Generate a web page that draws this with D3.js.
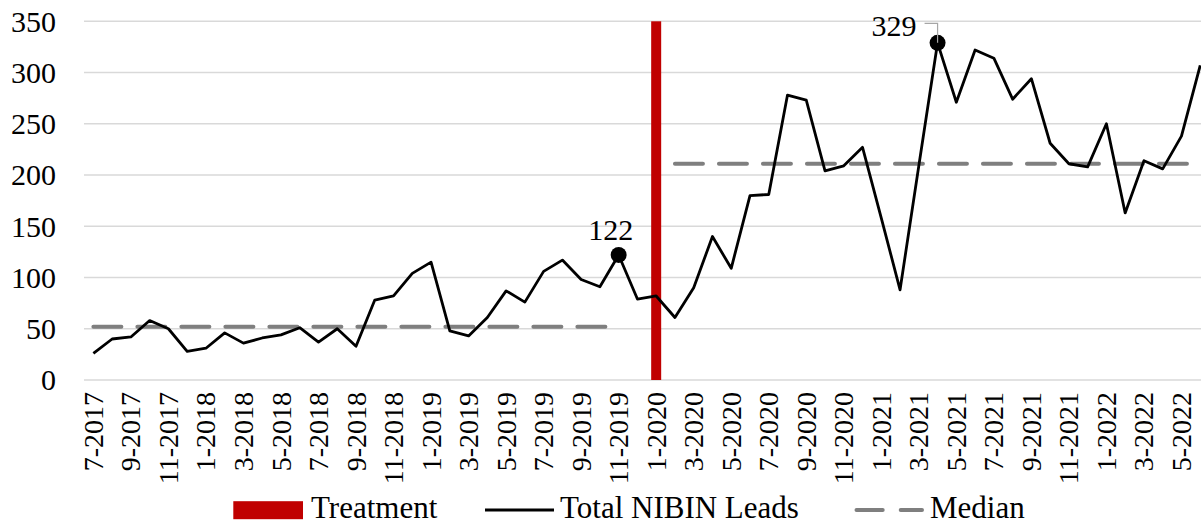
<!DOCTYPE html>
<html>
<head>
<meta charset="utf-8">
<script src="https://cdn.jsdelivr.net/npm/d3@7"></script>
<style>
  body { margin: 0; background: #fff; }
  svg { display: block; }
  text { font-family: "Liberation Serif", "Times New Roman", serif; fill: #000; }
</style>
</head>
<body>
<div id="chart"></div>
<script>
// Month categories (one per data point)
const months = [
  "7-2017", "8-2017", "9-2017", "10-2017", "11-2017", "12-2017",
  "1-2018", "2-2018", "3-2018", "4-2018", "5-2018", "6-2018",
  "7-2018", "8-2018", "9-2018", "10-2018", "11-2018", "12-2018",
  "1-2019", "2-2019", "3-2019", "4-2019", "5-2019", "6-2019",
  "7-2019", "8-2019", "9-2019", "10-2019", "11-2019", "12-2019",
  "1-2020", "2-2020", "3-2020", "4-2020", "5-2020", "6-2020",
  "7-2020", "8-2020", "9-2020", "10-2020", "11-2020", "12-2020",
  "1-2021", "2-2021", "3-2021", "4-2021", "5-2021", "6-2021",
  "7-2021", "8-2021", "9-2021", "10-2021", "11-2021", "12-2021",
  "1-2022", "2-2022", "3-2022", "4-2022", "5-2022", "6-2022"
];

// Total NIBIN leads per month
const leads = [
  26, 40, 42, 58, 50, 28,
  31, 46, 36, 41, 44, 51,
  37, 50, 33, 78, 82, 104,
  115, 48, 43, 61, 87, 76,
  106, 117, 98, 91, 122, 79,
  82, 61, 90, 140, 109, 180,
  181, 278, 273, 204, 209, 227,
  158, 88, 209, 329, 271, 322,
  314, 274, 294, 231, 211, 208,
  250, 163, 214, 206, 238, 307
];

// Median lines (pre / post treatment)
const medianValues = [52, 211];
const medianStart = ["7-2017", "2-2020"];
const medianEnd = ["11-2019", "6-2022"];

// Treatment bar
const treatmentMonth = "1-2020";
const treatmentValue = 350;

// Labeled points
const labeledMonths = ["11-2019", "4-2021"];

const yTicks = [0, 50, 100, 150, 200, 250, 300, 350];
const legendLabels = ["Treatment", "Total NIBIN Leads", "Median"];

const WIDTH = 1201;
const HEIGHT = 525;
const RED = "#C00000";
const GREY = "#7f7f7f";

const svg = d3.select("#chart").append("svg")
  .attr("width", WIDTH)
  .attr("height", HEIGHT);

// scales
const x = d3.scaleBand()
  .domain(months)
  .range([84, 84 + months.length * 18.76])
  .padding(0);
const cx = (m) => x(m) + x.bandwidth() / 2;

const y = d3.scaleLinear()
  .domain([0, 350])
  .range([380, 21.3]);

// gridlines
svg.append("g")
  .selectAll("line")
  .data(yTicks)
  .enter()
  .append("line")
  .attr("x1", 84)
  .attr("x2", WIDTH)
  .attr("y1", (d) => y(d))
  .attr("y2", (d) => y(d))
  .attr("stroke", "#d9d9d9")
  .attr("stroke-width", 1.4);

// y axis labels
const yAxis = svg.append("g")
  .attr("transform", "translate(56,0)")
  .call(d3.axisLeft(y).tickValues(yTicks).tickSize(0).tickPadding(0));
yAxis.select(".domain").remove();
yAxis.selectAll("text")
  .attr("font-size", 30)
  .attr("font-family", "Liberation Serif, Times New Roman, serif")
  .attr("fill", "#000")
  .attr("dy", "0.33em");

// x axis labels (every second month)
const xAxis = svg.append("g")
  .attr("transform", "translate(0,380)")
  .call(d3.axisBottom(x).tickValues(months.filter((d, i) => i % 2 === 0)).tickSize(0));
xAxis.select(".domain").remove();
xAxis.selectAll("text")
  .attr("font-size", 28)
  .attr("font-family", "Liberation Serif, Times New Roman, serif")
  .attr("fill", "#000")
  .attr("transform", "rotate(-90)")
  .attr("x", -12)
  .attr("y", 0)
  .attr("dy", "0.34em")
  .style("text-anchor", "end");

// treatment bar
svg.append("rect")
  .attr("x", cx(treatmentMonth) - 5)
  .attr("y", y(treatmentValue))
  .attr("width", 10)
  .attr("height", y(0) - y(treatmentValue))
  .attr("fill", RED);

// median lines
medianValues.forEach((v, i) => {
  svg.append("line")
    .attr("x1", cx(medianStart[i]))
    .attr("x2", cx(medianEnd[i]))
    .attr("y1", y(v))
    .attr("y2", y(v))
    .attr("stroke", GREY)
    .attr("stroke-width", 4)
    .attr("stroke-linecap", "round")
    .attr("stroke-dasharray", "28,16");
});

// leads line
const line = d3.line()
  .x((d, i) => cx(months[i]))
  .y((d) => y(d));

svg.append("path")
  .datum(leads)
  .attr("d", line)
  .attr("fill", "none")
  .attr("stroke", "#000")
  .attr("stroke-width", 2.8)
  .attr("stroke-linejoin", "round");

// labeled points
labeledMonths.forEach((m) => {
  const v = leads[months.indexOf(m)];
  svg.append("circle")
    .attr("cx", cx(m))
    .attr("cy", y(v))
    .attr("r", 8)
    .attr("fill", "#000");
});

// label 122 (above)
const m0 = labeledMonths[0];
svg.append("text")
  .attr("x", cx(m0) - 8)
  .attr("y", y(leads[months.indexOf(m0)]) - 15)
  .attr("font-size", 30)
  .attr("text-anchor", "middle")
  .text(leads[months.indexOf(m0)]);

// label 329 with leader line
const m1 = labeledMonths[1];
const p1x = cx(m1), p1y = y(leads[months.indexOf(m1)]);
svg.append("path")
  .attr("d", `M${p1x - 13},${p1y - 19.5}H${p1x}V${p1y}`)
  .attr("fill", "none")
  .attr("stroke", "#a6a6a6")
  .attr("stroke-width", 1.2);
svg.append("text")
  .attr("x", p1x - 21)
  .attr("y", p1y - 7)
  .attr("font-size", 30)
  .attr("text-anchor", "end")
  .text(leads[months.indexOf(m1)]);

// legend
const legend = svg.append("g");
legend.append("rect")
  .attr("x", 233.3).attr("y", 501.2)
  .attr("width", 69.7).attr("height", 18)
  .attr("fill", RED);
legend.append("text")
  .attr("x", 311).attr("y", 518)
  .attr("font-size", 31)
  .text(legendLabels[0]);

legend.append("line")
  .attr("x1", 485).attr("x2", 554)
  .attr("y1", 510).attr("y2", 510)
  .attr("stroke", "#000")
  .attr("stroke-width", 2.8);
legend.append("text")
  .attr("x", 560).attr("y", 518)
  .attr("font-size", 31)
  .text(legendLabels[1]);

legend.append("line")
  .attr("x1", 856.5).attr("x2", 922)
  .attr("y1", 510).attr("y2", 510)
  .attr("stroke", GREY)
  .attr("stroke-width", 4)
  .attr("stroke-linecap", "round")
  .attr("stroke-dasharray", "26.2,18");
legend.append("text")
  .attr("x", 930).attr("y", 518)
  .attr("font-size", 31)
  .text(legendLabels[2]);
</script>
</body>
</html>
